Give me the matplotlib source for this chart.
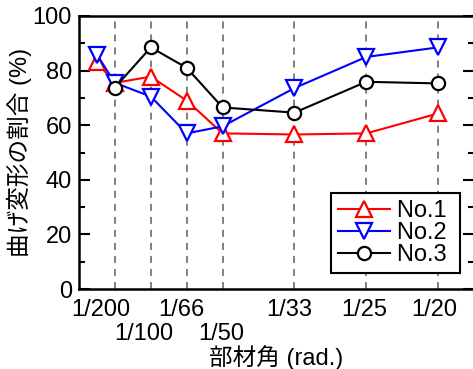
import numpy as np
import matplotlib
matplotlib.use("Agg")
import matplotlib.pyplot as plt
import matplotlib.transforms as mtransforms
from matplotlib.ticker import MultipleLocator

plt.rcParams['font.family'] = ['Liberation Sans', 'Noto Sans CJK JP', 'DejaVu Sans']
plt.rcParams['font.size'] = 17

# x positions on the chart (category slots, not linear in angle)
tick_pos = [1, 2, 3, 4, 6, 8, 10]
tick_labels = ['1/200', '1/100', '1/66', '1/50', '1/33', '1/25', '1/20']
# label nudges in pixels (dx, dy) - lower row for 1/100 and 1/50
label_shift = [(-14, 0), (-7, -24), (-5, 0), (-1, -24), (-5, 0), (-2, 0), (-4, 0)]

x12 = [0.5, 1, 2, 3, 4, 6, 8, 10]
no1 = [83, 75.5, 77.8, 69, 57, 56.6, 57, 64.3]
no2 = [85.8, 75.5, 70.5, 57, 59.6, 73.6, 85, 88.5]
x3 = [1, 2, 3, 4, 6, 8, 10]
no3 = [73.8, 88.5, 81, 66.5, 64.6, 75.9, 75.3]

fig = plt.figure(figsize=(4.73, 3.69), dpi=100)
ax = fig.add_axes([79 / 473, 80 / 369, 395 / 473, 273 / 369])

for p in tick_pos:
    ax.axvline(p, color='#808080', linestyle=(0, (3.6, 3.1)), linewidth=1.4, zorder=1)

ax.plot(x12, no1, color='#ff0000', marker='^', markersize=12, markerfacecolor='white',
        markeredgewidth=1.6, linewidth=1.5, label='No.1 ', zorder=3)
ax.plot(x12, no2, color='#0000ff', marker='v', markersize=12, markerfacecolor='white',
        markeredgewidth=1.6, linewidth=1.5, label='No.2 ', zorder=3)
ax.plot(x3, no3, color='black', marker='o', markersize=9.5, markerfacecolor='white',
        markeredgewidth=1.6, linewidth=1.5, label='No.3 ', zorder=4)

ax.set_xlim(0, 11)
ax.set_ylim(0, 100)
ax.set_xticks(tick_pos)
ax.set_xticklabels(tick_labels)
ax.tick_params(axis='x', length=0, pad=7)
for lab, (dx, dy) in zip(ax.get_xticklabels(), label_shift):
    off = mtransforms.ScaledTranslation(dx / 100, dy / 100, fig.dpi_scale_trans)
    lab.set_transform(lab.get_transform() + off)

ax.yaxis.set_major_locator(MultipleLocator(20))
ax.yaxis.set_minor_locator(MultipleLocator(10))
ax.tick_params(axis='y', which='major', direction='in', length=8, width=1.5,
               right=True, pad=5)
ax.tick_params(axis='y', which='minor', direction='in', length=4.5, width=1.5, right=True)
for s in ax.spines.values():
    s.set_linewidth(1.8)

ax.set_ylabel('曲げ変形の割合 (%)')
ax.yaxis.set_label_coords(-0.118, 0.5)
ax.set_xlabel('部材角 (rad.)')
ax.xaxis.set_label_coords(0.5, -0.207)

leg = ax.legend(loc='lower right', bbox_to_anchor=(0.9646, 0.0586), fancybox=False,
                edgecolor='black', framealpha=1, handlelength=2.2, handletextpad=0.3,
                borderpad=0.3, labelspacing=0.0, borderaxespad=0)
leg.get_frame().set_linewidth(1.5)

fig.savefig('out.png', dpi=100)
